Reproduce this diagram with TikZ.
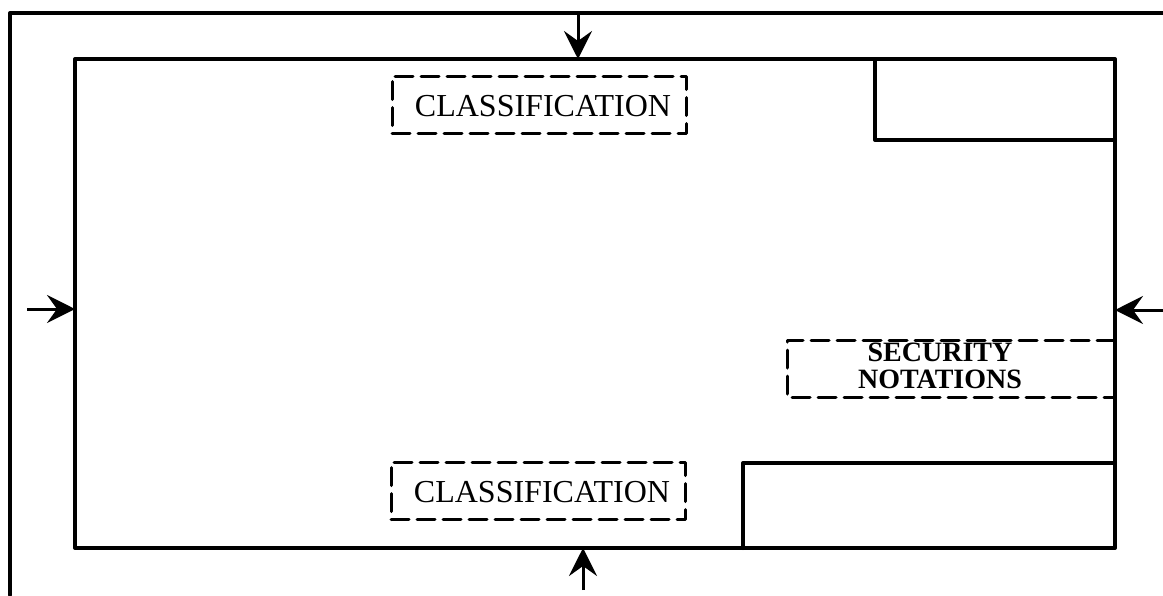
\documentclass[tikz,border=0pt]{standalone}
\usepackage{fontspec}
\setmainfont{Liberation Serif}
\usetikzlibrary{arrows.meta}
\begin{document}
\begin{tikzpicture}[x=1pt,y=-1pt,
  frame/.style={line width=4pt,line cap=round,line join=round},
  dbox/.style={line width=3pt,dash pattern=on 18pt off 8pt,line cap=round,line join=round},
  arr/.style={line width=3pt,-{Stealth[length=28pt,width=28pt,inset=10pt]}},
  lbl/.style={font=\fontsize{32}{30}\selectfont,align=center,inner sep=0pt},
  slbl/.style={font=\bfseries\fontsize{28}{27}\selectfont,align=center,inner sep=0pt}]
\useasboundingbox (0,0) rectangle (1163,595);
% outer frame
\coordinate (obl) at (10,595);
\coordinate (otl) at (10,13);
\coordinate (otr) at (1163,13);
\draw[frame] (obl) -- (otl) -- (otr);
% inner frame
\coordinate (itl) at (75,59);
\coordinate (ibr) at (1115,548);
\draw[frame] (itl) rectangle (ibr);
% top right box
\coordinate (trb) at (875,59);
\coordinate (trc) at (1115,140);
\draw[frame] (trb) |- (trc);
% bottom right box
\coordinate (brb) at (743,548);
\coordinate (brc) at (1115,463);
\draw[frame] (brb) |- (brc);
% arrows
\coordinate (tA) at (578,13);  \coordinate (tB) at (578,59);
\coordinate (bA) at (583,590); \coordinate (bB) at (583,548);
\coordinate (lA) at (27,309);  \coordinate (lB) at (75,309);
\coordinate (rA) at (1163,310); \coordinate (rB) at (1115,310);
\draw[arr] (tA) -- (tB);
\draw[arr] (bA) -- (bB);
\draw[arr] (lA) -- (lB);
\draw[arr] (rA) -- (rB);
% classification boxes
\node[draw,dbox,minimum width=294pt,minimum height=57pt,inner sep=0pt] (ct) at (539,105) {};
\node[lbl] (ctt) at (543,106) {CLASSIFICATION};
\node[draw,dbox,minimum width=294pt,minimum height=57pt,inner sep=0pt] (cb) at (538,491) {};
\node[lbl] (cbt) at (542,492) {CLASSIFICATION};
% security notations
\coordinate (s1) at (1115,340);
\coordinate (s2) at (787,340);
\coordinate (s3) at (787,397);
\coordinate (s4) at (1115,397);
\draw[dbox] (s1) -- (s2) -- (s3) -- (s4);
\node[slbl] (sec) at (940,366) {SECURITY\\NOTATIONS};
\end{tikzpicture}
\end{document}
